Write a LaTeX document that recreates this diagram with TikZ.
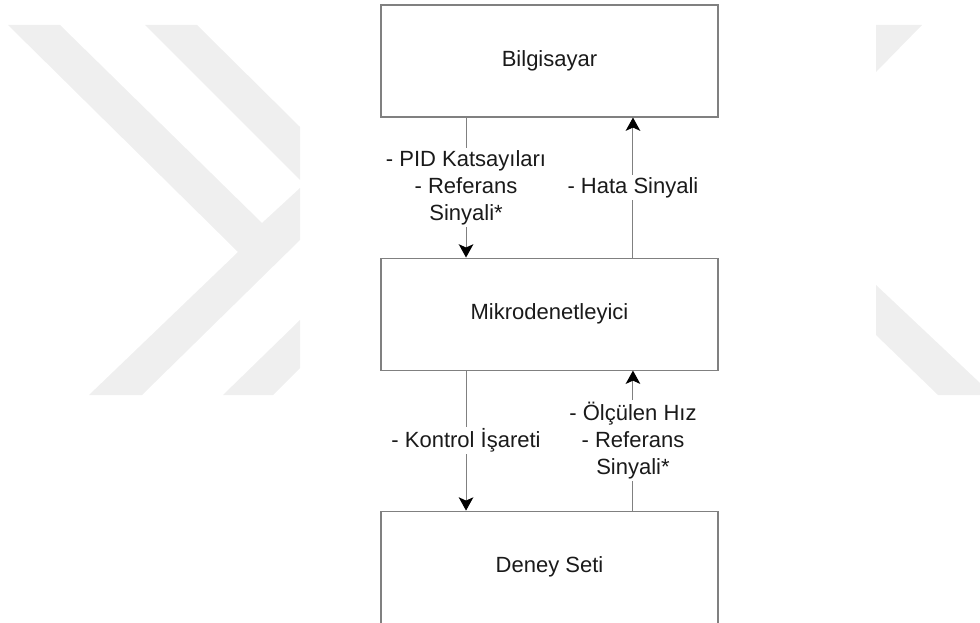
\documentclass[tikz,border=0pt]{standalone}
\usepackage{fontspec}
\setmainfont{Liberation Sans}
\usetikzlibrary{positioning,arrows.meta}

\definecolor{linegray}{HTML}{808080}
\definecolor{textdark}{HTML}{1A1A1A}
\definecolor{markgray}{HTML}{EFEFEF}

\tikzset{
  block/.style={draw=linegray, line width=0.8pt, fill=white, minimum width=252.75pt,
    minimum height=84pt, inner sep=0pt, text=textdark},
  link/.style={draw=linegray, line width=0.75pt,
    -{Stealth[black, length=10pt, width=11pt, inset=2.5pt]}},
  tag/.style={fill=white, align=center, inner sep=1.5pt, text=textdark},
  shade band/.style={fill=markgray, draw=none}
}

\begin{document}
\begin{tikzpicture}[x=0.75pt, y=-0.75pt, node distance=105pt,
    font=\fontsize{16.5}{20.25}\selectfont]
  \useasboundingbox (0,0) rectangle (980,623);

  % faint background mark
  \fill[shade band] (8,25) -- (60,25) -- (262,223) -- (300,188) -- (300,240) -- (142,395)
    -- (89,395) -- (238,252) -- cycle;
  \fill[shade band] (145,25) -- (197,25) -- (300,127) -- (300,180) -- cycle;
  \fill[shade band] (300,320) -- (300,368) -- (273,395) -- (223,395) -- cycle;
  \fill[shade band] (876,25) -- (922,25) -- (876,72) -- cycle;
  \fill[shade band] (876,285) -- (980,383) -- (980,395) -- (938,395) -- (876,335) -- cycle;

  \node[block] (bilgisayar) at (549.5,61) {Bilgisayar};
  \node[block, below=of bilgisayar] (mikro) {Mikrodenetleyici};
  \node[block, below=of mikro] (deney) {Deney Seti};

  \draw[link] ([xshift=-62.6pt]bilgisayar.south) -- node[tag] {- PID Katsayıları\\- Referans\\Sinyali*}
    ([xshift=-62.6pt]mikro.north);
  \draw[link] ([xshift=62.6pt]mikro.north) -- node[tag] {- Hata Sinyali}
    ([xshift=62.6pt]bilgisayar.south);
  \draw[link] ([xshift=-62.6pt]mikro.south) -- node[tag] {- Kontrol İşareti}
    ([xshift=-62.6pt]deney.north);
  \draw[link] ([xshift=62.6pt]deney.north) -- node[tag] {- Ölçülen Hız\\- Referans\\Sinyali*}
    ([xshift=62.6pt]mikro.south);
\end{tikzpicture}
\end{document}
